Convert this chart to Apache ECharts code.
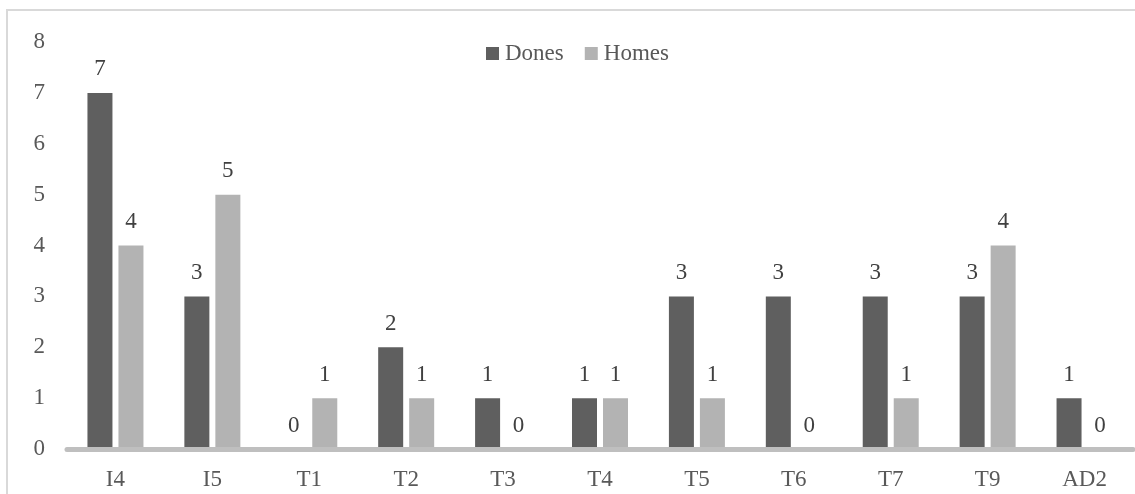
<!DOCTYPE html>
<html>
<head>
<meta charset="utf-8">
<script src="https://cdn.jsdelivr.net/npm/echarts@6/dist/echarts.min.js"></script>
<style>
  html, body { margin: 0; padding: 0; background: #fff; }
  #chart { width: 1135px; height: 494px; }
</style>
</head>
<body>
<div id="chart"></div>
<script>
const categories = ['I4', 'I5', 'T1', 'T2', 'T3', 'T4', 'T5', 'T6', 'T7', 'T9', 'AD2'];
const dones = [7, 3, 0, 2, 1, 1, 3, 3, 3, 3, 1];
const homes = [4, 5, 1, 1, 0, 1, 1, 0, 1, 4, 0];
const yTicks = [0, 1, 2, 3, 4, 5, 6, 7, 8];

const FONT = 'Liberation Serif';
const chart = echarts.init(document.getElementById('chart'), null, { renderer: 'canvas' });

const labelStyle = {
  show: true,
  position: 'top',
  distance: 12,
  color: '#404040',
  fontFamily: FONT,
  fontSize: 23
};

chart.setOption({
  animation: false,
  backgroundColor: '#fff',
  graphic: [{
    type: 'rect',
    shape: { x: 7, y: 10, width: 1140, height: 500 },
    style: { fill: 'none', stroke: '#d9d9d9', lineWidth: 2 },
    silent: true,
    z: -10
  }],
  legend: {
    left: 481,
    top: 37,
    itemWidth: 13,
    itemHeight: 13,
    itemGap: 21,
    icon: 'rect',
    textStyle: { color: '#595959', fontFamily: FONT, fontSize: 23, padding: [0, 0, 0, 1] },
    data: ['Dones', 'Homes']
  },
  grid: { left: 67, right: 2, top: 42, bottom: 45, containLabel: false },
  xAxis: {
    type: 'category',
    data: categories,
    z: 5,
    axisLine: { show: true, lineStyle: { color: '#bfbfbf', width: 5 } },
    axisTick: { show: false },
    axisLabel: { color: '#595959', fontFamily: FONT, fontSize: 23, margin: 19 }
  },
  yAxis: {
    type: 'value',
    min: yTicks[0],
    max: yTicks[yTicks.length - 1],
    interval: 1,
    axisLine: { show: false },
    axisTick: { show: false },
    splitLine: { show: false },
    axisLabel: { color: '#595959', fontFamily: FONT, fontSize: 23, margin: 22 }
  },
  series: [
    {
      name: 'Dones',
      type: 'bar',
      data: dones,
      barWidth: 25,
      barGap: '24%',
      itemStyle: { color: '#5f5f5f' },
      label: labelStyle
    },
    {
      name: 'Homes',
      type: 'bar',
      data: homes,
      barWidth: 25,
      barGap: '24%',
      itemStyle: { color: '#b3b3b3' },
      label: labelStyle
    }
  ]
});
</script>
</body>
</html>
